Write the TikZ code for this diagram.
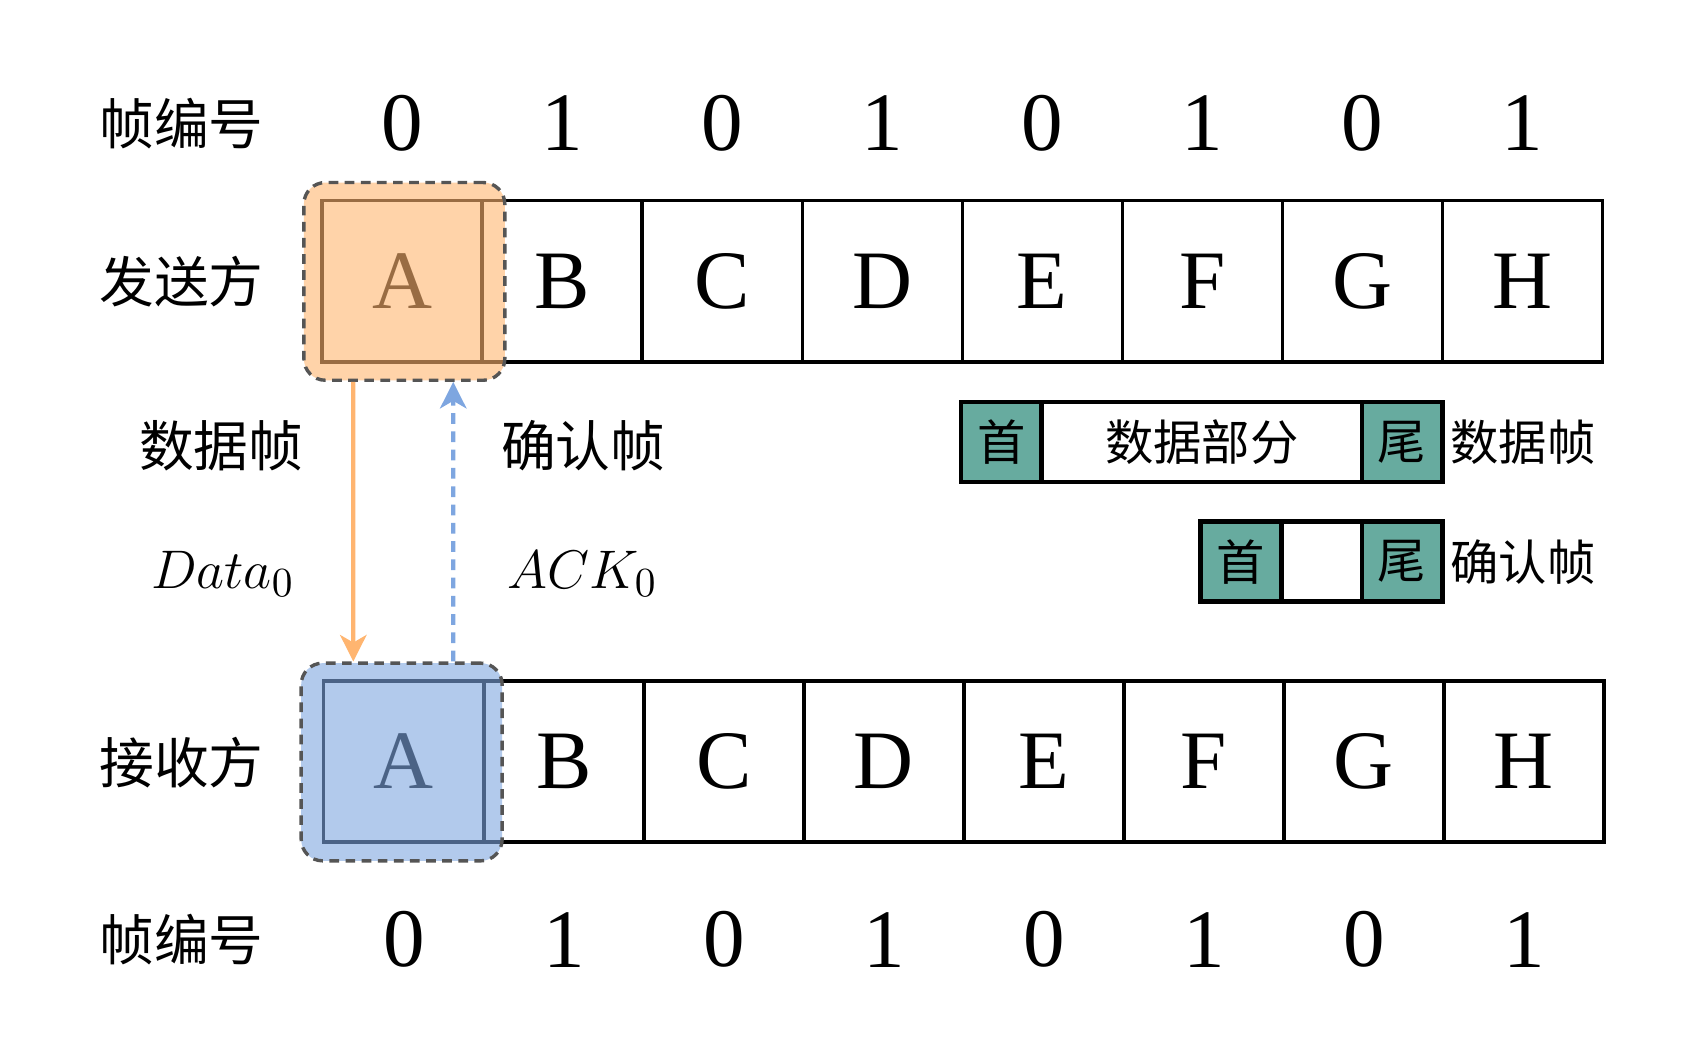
\documentclass[tikz,border=0pt]{standalone}
\usepackage{fontspec}
\setmainfont{Liberation Serif}
\newfontfamily\cjk{Noto Sans CJK SC}
\usetikzlibrary{arrows.meta}
\definecolor{oranA}{HTML}{FFB570}
\definecolor{bluA}{HTML}{7EA6E0}
\definecolor{tealA}{HTML}{67AB9F}
\definecolor{dashgray}{HTML}{555555}
\tikzset{
  cell/.style={draw=black, line width=0.9pt, minimum width=1.49cm, minimum height=1.50cm, inner sep=0pt, font=\fontsize{22}{24}\selectfont},
  num/.style={inner sep=0pt, font=\fontsize{22}{24}\selectfont},
  lab/.style={inner sep=0pt, font=\cjk\fontsize{14.5}{16}\selectfont},
  mlab/.style={inner sep=0pt, anchor=base west, font=\fontsize{15.5}{17}\selectfont},
  win/.style={draw=dashgray, line width=0.9pt, dash pattern=on 0.09cm off 0.06cm, rounded corners=0.2cm, fill opacity=0.6, minimum width=1.87cm, minimum height=1.84cm, inner sep=0pt},
  lg/.style={draw=black, line width=1.2pt, minimum height=0.745cm, inner sep=0pt, font=\cjk\fontsize{12.8}{14}\selectfont},
  lglab/.style={inner sep=0pt, anchor=west, font=\cjk\fontsize{12.8}{14}\selectfont},
}
\begin{document}
\begin{tikzpicture}[x=0.01cm, y=-0.01cm]
\useasboundingbox (0,0) rectangle (1568,987);
% sender and receiver cells
\foreach \l [count=\i] in {A,B,C,D,E,F,G,H} {
  \node[cell] (s\i) at ({374.5+149*(\i-1)},262) {\l};
  \node[cell] (r\i) at ({376+149*(\i-1)},709) {\l};
}
% frame numbers
\foreach \n [count=\i] in {0,1,0,1,0,1,0,1} {
  \node[num] (tn\i) at (s\i |- 0,115) {\n};
  \node[num] (bn\i) at (r\i |- 0,875) {\n};
}
% row labels
\node[lab] (lt) at (169,115) {帧编号};
\node[lab] (ls) at (169,262) {发送方};
\node[lab] (lr) at (169,710) {接收方};
\node[lab] (lb) at (169,875) {帧编号};
\node[lab] (ld) at (206,415) {数据帧};
\node[lab] (la) at (543,415) {确认帧};
\node[mlab] (md) at (140,548) {$Data_0$};
\node[mlab] (ma) at (472,548) {$ACK_0$};
% windows
\node[win, fill=oranA] (sw) at (376.5,262) {};
\node[win, fill=bluA] (rw) at (374,709.5) {};
% arrows
\draw[oranA, line width=1.1pt, -{Stealth[length=7pt, width=7pt, inset=2pt]}] ([xshift=-0.475cm]sw.south) -- ([xshift=-0.45cm]rw.north);
\draw[bluA, line width=1.1pt, dash pattern=on 0.1cm off 0.07cm, -{Stealth[length=7pt, width=7pt, inset=2pt]}] ([xshift=0.48cm]rw.north) -- ([xshift=0.455cm]sw.south);
% legend: data frame
\node[lg, fill=tealA, minimum width=0.75cm] (dh) at (932.5,411.5) {首};
\node[lg, fill=white, minimum width=2.98cm] (dm) at (1119,411.5) {数据部分};
\node[lg, fill=tealA, minimum width=0.75cm] (dt) at (1305.5,411.5) {尾};
\node[lglab] (dl) at (1350,411.5) {数据帧};
% legend: ack frame
\node[lg, fill=tealA, minimum width=0.75cm] (ah) at (1155.5,523) {首};
\node[lg, fill=white, minimum width=0.75cm] (am) at (1230.5,523) {};
\node[lg, fill=tealA, minimum width=0.75cm] (at) at (1305.5,523) {尾};
\node[lglab] (al) at (1350,523) {确认帧};
\end{tikzpicture}
\end{document}
